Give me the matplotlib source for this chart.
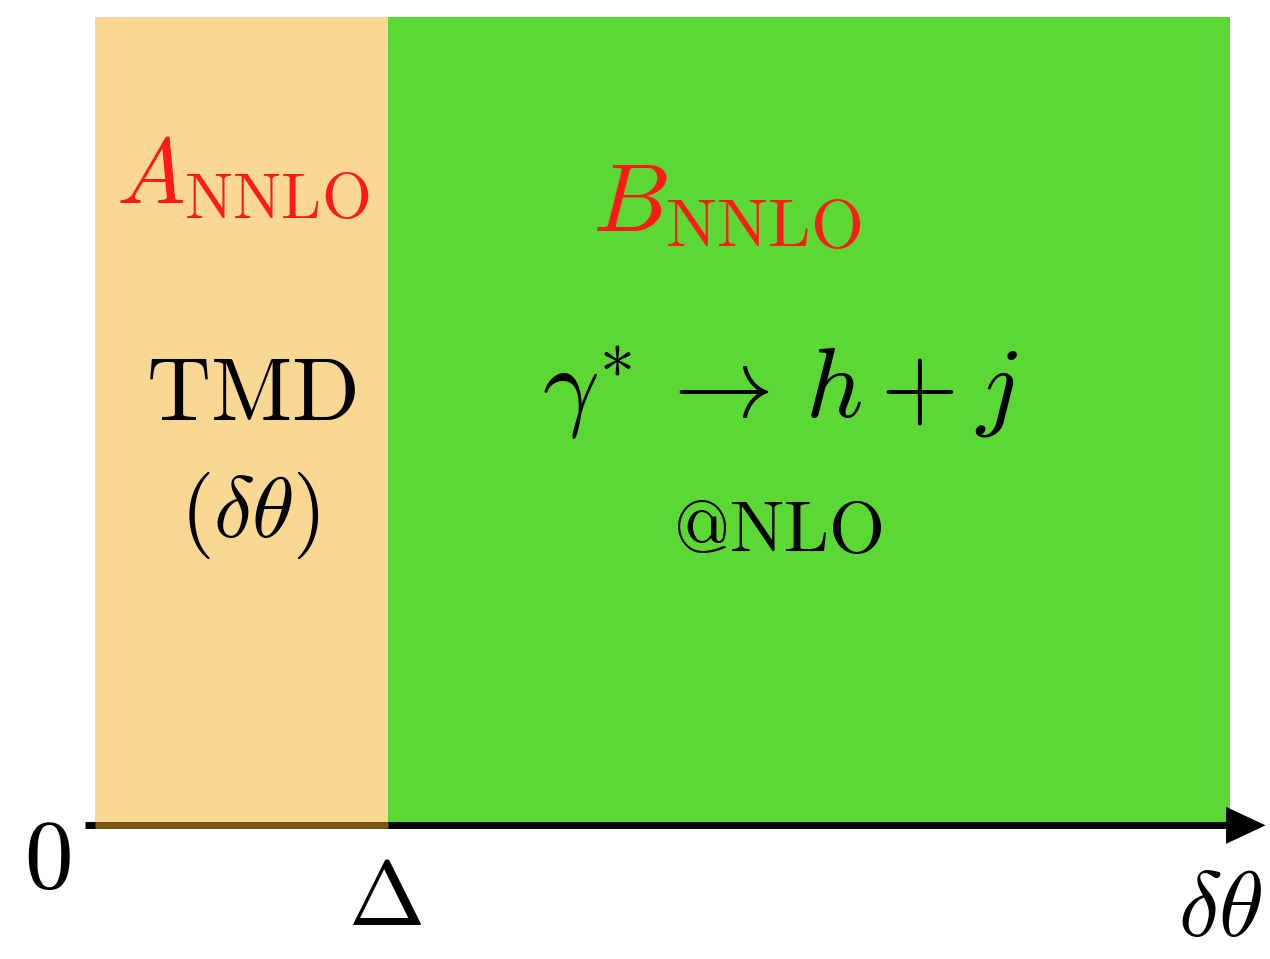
import matplotlib
matplotlib.use("Agg")
import matplotlib.pyplot as plt

plt.rcParams["mathtext.fontset"] = "cm"
plt.rcParams["font.family"] = ["DejaVu Serif"]

# Region boundaries along delta-theta (Delta = 1).
region_edges = [0.0, 1.0, 3.874]
region_height = 1.0
region_colors = ["#F8D892", "#5CD834"]
region_titles = [r"$A_{\rm NNLO}$", r"$B_{\rm NNLO}$"]
region_texts = [r"$\mathrm{TMD}$", r"$\gamma^{*}\,\rightarrow\, h + j$"]
region_subtexts = [r"$(\delta\theta)$", r"$\mathrm{@NLO}$"]
tick_labels = [r"$0$", r"$\Delta$"]
axis_label = r"$\delta\theta$"

fig = plt.figure(figsize=(12.7, 9.59), dpi=100)
ax = fig.add_axes([0, 0, 1, 1])
ax.set_xlim(-0.324, 4.010)
ax.set_ylim(-0.170, 1.021)
ax.axis("off")

# coloured regions
for i in range(len(region_colors)):
    ax.fill_between([region_edges[i], region_edges[i + 1]], 0, region_height,
                    color=region_colors[i], lw=0, zorder=1)

# horizontal axis with arrow head
y_axis = -0.004
ax.plot([-0.034, 3.87], [y_axis, y_axis], color="black", lw=5,
        solid_capstyle="butt", zorder=2)
ax.plot([region_edges[0], region_edges[1]], [y_axis, y_axis],
        color="#7A5812", lw=5, solid_capstyle="butt", zorder=3)
ax.fill([3.86, 3.995, 3.86], [y_axis - 0.023, y_axis, y_axis + 0.023],
        color="black", lw=0, zorder=3)

# labels (baseline aligned)
red = "#FF1A1A"
ax.text(0.505, 0.769, region_titles[0], color=red, fontsize=66,
        ha="center", va="baseline")
ax.text(2.157, 0.732, region_titles[1], color=red, fontsize=70,
        ha="center", va="baseline")
ax.text(0.534, 0.499, region_texts[0], fontsize=64, ha="center",
        va="baseline")
ax.text(0.529, 0.354, region_subtexts[0], fontsize=62, ha="center",
        va="baseline")
ax.text(2.338, 0.502, region_texts[1], fontsize=72, ha="center",
        va="baseline")
ax.text(2.331, 0.335, region_subtexts[1], fontsize=52, ha="center",
        va="baseline")

ax.text(-0.164, -0.082, tick_labels[0], fontsize=70, ha="center",
        va="baseline")
ax.text(0.99, -0.128, tick_labels[1], fontsize=66, ha="center",
        va="baseline")
ax.text(3.985, -0.165, axis_label, fontsize=66, ha="right", va="bottom")

fig.savefig("out.png", dpi=100)
